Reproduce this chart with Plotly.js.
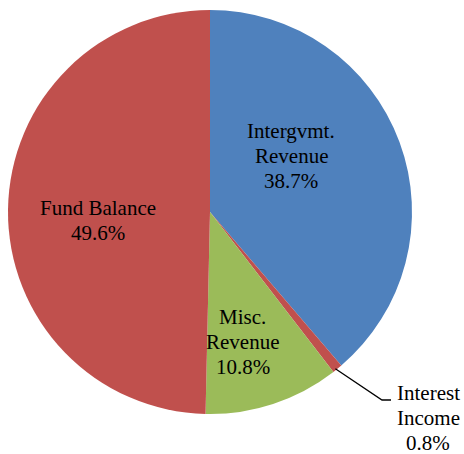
<!DOCTYPE html>
<html><head><meta charset="utf-8">
<script src="https://cdn.plot.ly/plotly-3.0.1.min.js"></script>
</head><body style="margin:0"><div id="chart" style="width:464px;height:454px"></div>
<script>
const categories = ["Intergvmt. Revenue", "Interest Income", "Misc. Revenue", "Fund Balance"];
const labelLines = [["Intergvmt.", "Revenue"], ["Interest", "Income"], ["Misc.", "Revenue"], ["Fund Balance"]];
const values = [38.7, 0.8, 10.8, 49.6];
const colors = ["#4F81BD", "#C0504D", "#9BBB59", "#C0504D"];

const W = 464, H = 454;
const cx = 210, cy = 212, R = 202;
const serifFamily = "Times New Roman, Liberation Serif, serif";
const FS = 21, LH = 25;
// label centre (x) and first baseline (y), pixels
const labelAnchor = [[291, 138], [428, 400], [243, 324], [98, 215]];

const data = [{
  type: "pie",
  values: values,
  labels: categories,
  textinfo: "none",
  sort: false,
  direction: "clockwise",
  rotation: 0,
  marker: {colors: colors},
  hoverinfo: "none",
  domain: {x: [(cx - R) / W, (cx + R) / W], y: [1 - (cy + R) / H, 1 - (cy - R) / H]}
}];

const total = values.reduce((a, b) => a + b, 0);
let cum = 0;
const annotations = [], shapes = [];
values.forEach((v, i) => {
  const lines = labelLines[i].concat([v.toFixed(1) + "%"]);
  const [ax, ay] = labelAnchor[i];
  lines.forEach((t, k) => {
    annotations.push({xref: "paper", yref: "paper", x: ax / W, y: 1 - (ay + k * LH - 7) / H,
      xanchor: "center", yanchor: "middle", showarrow: false,
      text: '<span style="font-family:Liberation Serif, serif">' + t + '</span>',
      font: {family: serifFamily, size: FS, color: "#000"}});
  });
  if (v < 2) {
    const a = (cum + v / 2) / total * 2 * Math.PI;
    const x0 = cx + R * Math.sin(a) - 2, y0 = cy - R * Math.cos(a);
    const x1 = 382, y1 = 400, x2 = 391;
    shapes.push({type: "path", xref: "paper", yref: "paper",
      path: `M ${x0 / W} ${1 - y0 / H} L ${x1 / W} ${1 - y1 / H} L ${x2 / W} ${1 - y1 / H}`,
      line: {color: "#000", width: 1.3}});
  }
  cum += v;
});

const layout = {
  width: W, height: H,
  margin: {l: 0, r: 0, t: 0, b: 0},
  font: {family: serifFamily},
  showlegend: false,
  shapes: shapes,
  annotations: annotations
};
Plotly.newPlot("chart", data, layout, {staticPlot: true});
</script></body></html>
